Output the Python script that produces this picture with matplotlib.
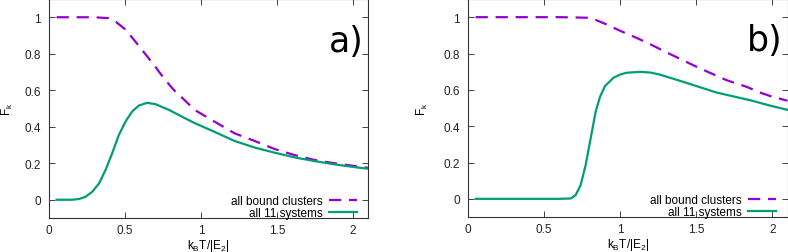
import matplotlib
matplotlib.use("Agg")
import matplotlib.pyplot as plt

# Panel a) data
a_bound_x = [0.05, 0.2, 0.3, 0.39, 0.44, 0.47, 0.5, 0.55, 0.62, 0.69, 0.755, 0.82, 0.9, 0.959, 1.09, 1.222, 1.354, 1.485, 1.616, 1.748, 1.879, 2.01, 2.1]
a_bound_y = [1.0, 1.0, 1.0, 0.995, 0.975, 0.955, 0.935, 0.886, 0.813, 0.74, 0.667, 0.603, 0.54, 0.492, 0.428, 0.364, 0.322, 0.278, 0.245, 0.218, 0.2, 0.185, 0.175]
a_all_x = [0.05, 0.15, 0.197, 0.24, 0.285, 0.33, 0.372, 0.416, 0.46, 0.504, 0.548, 0.591, 0.646, 0.70, 0.788, 0.876, 0.959, 1.09, 1.222, 1.354, 1.485, 1.616, 1.748, 1.879, 2.01, 2.1]
a_all_y = [0.0, 0.0, 0.004, 0.016, 0.044, 0.09, 0.163, 0.255, 0.355, 0.429, 0.484, 0.516, 0.531, 0.524, 0.493, 0.455, 0.42, 0.372, 0.322, 0.286, 0.258, 0.232, 0.212, 0.194, 0.179, 0.17]

# Panel b) data
b_bound_x = [0.05, 0.3, 0.6, 0.78, 0.84, 0.911, 1.0, 1.108, 1.2, 1.305, 1.4, 1.502, 1.6, 1.70, 1.83, 1.92, 2.0, 2.1]
b_bound_y = [1.0, 1.0, 1.0, 0.997, 0.985, 0.96, 0.925, 0.886, 0.85, 0.806, 0.768, 0.727, 0.69, 0.653, 0.617, 0.585, 0.562, 0.54]
b_all_x = [0.05, 0.4, 0.6, 0.675, 0.707, 0.74, 0.773, 0.806, 0.839, 0.867, 0.90, 0.955, 1.0, 1.042, 1.13, 1.2, 1.26, 1.415, 1.634, 1.853, 2.0, 2.1]
b_all_y = [0.0, 0.0, 0.0, 0.002, 0.02, 0.075, 0.185, 0.332, 0.479, 0.56, 0.62, 0.666, 0.684, 0.694, 0.699, 0.695, 0.684, 0.644, 0.585, 0.543, 0.51, 0.49]

x_ticks = [0, 0.5, 1, 1.5, 2]
x_ticklabels = ["0", "0.5", "1", "1.5", "2"]
y_ticks = [0, 0.2, 0.4, 0.6, 0.8, 1]
y_ticklabels = ["0", "0.2", "0.4", "0.6", "0.8", "1"]
legend_labels = ["all bound clusters", "all 11 systems"]
panel_labels = ["a)", "b)"]

purple = "#9400D3"
green = "#009E73"

plt.rcParams['font.family'] = ['Liberation Sans', 'DejaVu Sans']
fig = plt.figure(figsize=(7.88, 2.53), dpi=100)
axes_pos = [[49/788, 34/253, 319/788, 219/253],
            [468/788, 35/253, 319.5/788, 218/253]]
ylabel_x = [-0.108, -0.12]
data = [(a_bound_x, a_bound_y, a_all_x, a_all_y),
        (b_bound_x, b_bound_y, b_all_x, b_all_y)]

for i, (pos, (bx, by, ax_, ay)) in enumerate(zip(axes_pos, data)):
    ax = fig.add_axes(pos)
    l1, = ax.plot(bx, by, color=purple, lw=1.6, linestyle=(0, (5.5, 3.5)))
    l2, = ax.plot(ax_, ay, color=green, lw=1.6)
    ax.set_xlim(0, 2.1)
    ax.set_ylim(-0.1, 1.1)
    ax.set_xticks(x_ticks)
    ax.set_xticklabels(x_ticklabels)
    ax.set_yticks(y_ticks)
    ax.set_yticklabels(y_ticklabels)
    ax.tick_params(direction='in', length=4, width=0.6, top=True, right=True,
                   labelsize=8.5, colors='#222222', pad=6)
    ax.tick_params(axis='x', pad=4)
    for s in ax.spines.values():
        s.set_linewidth(0.8)
        s.set_color('#333333')
    ax.set_xlabel(r"k$_\mathregular{B}$T/|E$_\mathregular{2}$|", fontsize=8.5)
    ax.xaxis.set_label_coords(0.5, -0.085)
    ax.set_ylabel(r"F$_\mathregular{k}$", fontsize=8.5)
    ax.yaxis.set_label_coords(ylabel_x[i], 0.5)
    ax.text(0.985, 0.81, panel_labels[i], transform=ax.transAxes, ha='right', va='center',
            fontsize=25, family='DejaVu Sans')
    leg = ax.legend([l1, l2], legend_labels, loc='lower right', frameon=False,
                    fontsize=8.5, markerfirst=False, handlelength=2.4,
                    handletextpad=0.5, labelspacing=0.0, borderaxespad=0.0,
                    borderpad=0.0, bbox_to_anchor=(0.965, -0.003))
    for t in leg.get_texts():
        t.set_ha('right')

fig.savefig("out.png", dpi=100)
